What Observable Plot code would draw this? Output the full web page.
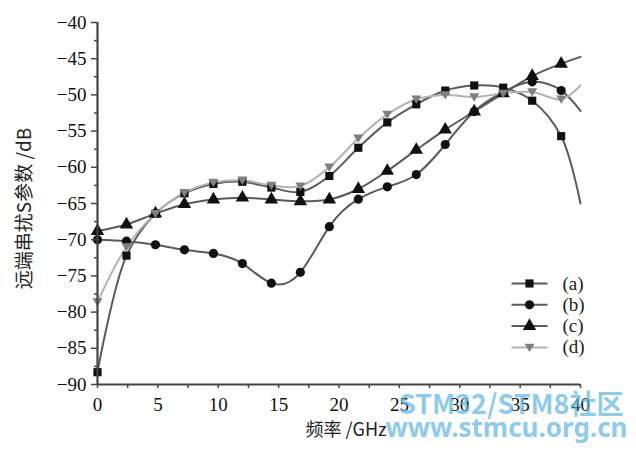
<!DOCTYPE html>
<html>
<head>
<meta charset="utf-8">
<script src="https://cdn.jsdelivr.net/npm/d3@7"></script>
<script src="https://cdn.jsdelivr.net/npm/@observablehq/plot@0.6"></script>
<style>
  html, body { margin: 0; padding: 0; background: #fff; }
  #chart { width: 636px; height: 452px; }
  #chart g[aria-label$="tick label"], #chart g[aria-label$="tick label"] text { font-family: 'Liberation Serif', 'DejaVu Serif', serif !important; font-variant: normal !important; }
</style>
</head>
<body>
<div id="chart"></div>
<script>
// Frequency (GHz)
const freq = [0, 2.4, 4.8, 7.2, 9.6, 12, 14.4, 16.8, 19.2, 21.6, 24, 26.4, 28.8, 31.2, 33.6, 36, 38.4, 40];
// Far-end crosstalk S parameter (dB)
const seriesA = [-88.3, -72.2, -66.4, -63.6, -62.3, -62.0, -62.8, -63.4, -61.2, -57.3, -53.8, -51.3, -49.4, -48.7, -49.0, -50.8, -55.7, -65.0];
const seriesB = [-70.0, -70.2, -70.7, -71.4, -71.9, -73.3, -76.0, -74.5, -68.2, -64.4, -62.7, -61.0, -56.85, -52.3, -49.6, -48.2, -49.4, -52.2];
const seriesC = [-68.8, -67.9, -66.4, -65.1, -64.45, -64.2, -64.45, -64.7, -64.45, -63.0, -60.5, -57.6, -54.8, -52.3, -49.8, -47.4, -45.7, -44.75];
const seriesD = [-78.6, -71.0, -66.4, -63.5, -62.1, -61.8, -62.5, -62.6, -60.0, -56.0, -52.7, -50.6, -50.0, -50.3, -49.8, -49.6, -50.6, -48.7];
const seriesNames = ["(a)", "(b)", "(c)", "(d)"];
const yTicks = [-90, -85, -80, -75, -70, -65, -60, -55, -50, -45, -40];
const yMinorTicks = [-87.5, -82.5, -77.5, -72.5, -67.5, -62.5, -57.5, -52.5, -47.5, -42.5];
const xTicks = [0, 5, 10, 15, 20, 25, 30, 35, 40];
const xMinorTicks = [2.5, 7.5, 12.5, 17.5, 22.5, 27.5, 32.5, 37.5];
const xLabel = "频率 /GHz";
const yLabel = "远端串扰S参数 /dB";
const watermark1 = "STM32/STM8社区";
const watermark2 = "www.stmcu.org.cn";

const serif = "'Liberation Serif', 'DejaVu Serif', serif";
const cjk = "'Noto Sans CJK SC', 'Liberation Serif', sans-serif";

const triDown = {
  draw(ctx, size) {
    const r = Math.sqrt(size / Math.PI);
    ctx.moveTo(0, r * 1.05);
    ctx.lineTo(r * 1.15, -r * 0.85);
    ctx.lineTo(-r * 1.15, -r * 0.85);
    ctx.closePath();
  }
};
const legendLine = {
  draw(ctx) { ctx.moveTo(-18, 0); ctx.lineTo(18, 0); }
};

const allSeries = [seriesA, seriesB, seriesC, seriesD];
const styles = [
  {line: "#5a5a5a", marker: "#111", symbol: "square", r: 4.6, curve: "catmull-rom"},
  {line: "#5a5a5a", marker: "#111", symbol: "circle", r: 4.6, curve: "natural"},
  {line: "#5a5a5a", marker: "#111", symbol: "triangle", r: 5, curve: "catmull-rom"},
  {line: "#b4b4b4", marker: "#808080", symbol: triDown, r: 4.4, curve: "catmull-rom"}
];

const rows = [];
allSeries.forEach((vals, i) => {
  vals.forEach((v, j) => rows.push({series: seriesNames[i], idx: i, x: freq[j], y: v}));
});

const fmt = d => (d < 0 ? "\u2212" : "") + Math.abs(d);

const marks = [];
// curves
styles.forEach((s, i) => {
  marks.push(Plot.line(rows.filter(r => r.idx === i), {
    x: "x", y: "y", curve: s.curve, stroke: s.line, strokeWidth: 2
  }));
});
// markers (no marker at the 40 GHz endpoint)
styles.forEach((s, i) => {
  marks.push(Plot.dot(rows.filter(r => r.idx === i && r.x < 40), {
    x: "x", y: "y", symbol: s.symbol, r: s.r, fill: s.marker, stroke: "none"
  }));
});
// axes
marks.push(
  Plot.axisY(yTicks, {tickSize: 6, tickPadding: 5, tickFormat: fmt, label: null, stroke: "#444", strokeWidth: 1.5, fill: "#111", fontSize: 19, fontFamily: serif}),
  Plot.axisY(yMinorTicks, {tickSize: 3, tickFormat: () => "", label: null, stroke: "#444", strokeWidth: 1.5}),
  Plot.axisX(xTicks, {tickSize: 4, tickPadding: 9, tickFormat: d => String(d), label: null, stroke: "#444", strokeWidth: 1.5, fill: "#111", fontSize: 19, fontFamily: serif}),
  Plot.axisX(xMinorTicks, {tickSize: 4, tickFormat: () => "", label: null, stroke: "#444", strokeWidth: 1.5}),
  Plot.ruleX([0], {stroke: "#444", strokeWidth: 2.2}),
  Plot.ruleY([-90], {stroke: "#444", strokeWidth: 2.2})
);
// axis titles
marks.push(
  Plot.text([xLabel], {text: d => d, frameAnchor: "bottom", textAnchor: "middle", lineAnchor: "middle", dx: 7, dy: 46, fontSize: 18, fill: "#222", fontFamily: cjk}),
  Plot.text([yLabel], {text: d => d, frameAnchor: "left", textAnchor: "middle", lineAnchor: "middle", rotate: -90, dx: -73, dy: 5, fontSize: 19, fill: "#222", fontFamily: cjk})
);
// legend
styles.forEach((s, i) => {
  const dy = 261 + i * 21.3;
  marks.push(
    Plot.dot([seriesNames[i]], {frameAnchor: "top-left", dx: 432, dy, symbol: legendLine, stroke: s.line, strokeWidth: 2, fill: "none"}),
    Plot.dot([seriesNames[i]], {frameAnchor: "top-left", dx: 432, dy, symbol: s.symbol, r: s.r, fill: s.marker, stroke: "none"}),
    Plot.text([seriesNames[i]], {text: d => d, frameAnchor: "top-left", dx: 465, dy, textAnchor: "start", lineAnchor: "middle", fontSize: 19, fill: "#222", fontFamily: serif})
  );
});
// watermark
marks.push(
  Plot.text([watermark1], {text: d => d, frameAnchor: "bottom-right", textAnchor: "end", lineAnchor: "middle", dx: 43, dy: 21, fontSize: 27, fontWeight: "bold", fill: "#5ab4e6", fillOpacity: 0.7, fontFamily: "'Noto Sans CJK SC', 'Noto Sans'"}),
  Plot.text([watermark2], {text: d => d, frameAnchor: "bottom-right", textAnchor: "end", lineAnchor: "middle", dx: 47, dy: 44, fontSize: 26, fontWeight: "bold", fill: "#5ab4e6", fillOpacity: 0.7, fontFamily: "'Noto Sans', sans-serif"})
);

const chart = Plot.plot({
  width: 636,
  height: 452,
  marginLeft: 97,
  marginRight: 56,
  marginTop: 22,
  marginBottom: 68,
  style: {fontFamily: serif, fontSize: "17px", background: "#fff", overflow: "visible"},
  x: {domain: [0, 40]},
  y: {domain: [-90, -40]},
  marks
});
document.getElementById("chart").appendChild(chart);
</script>
</body>
</html>
